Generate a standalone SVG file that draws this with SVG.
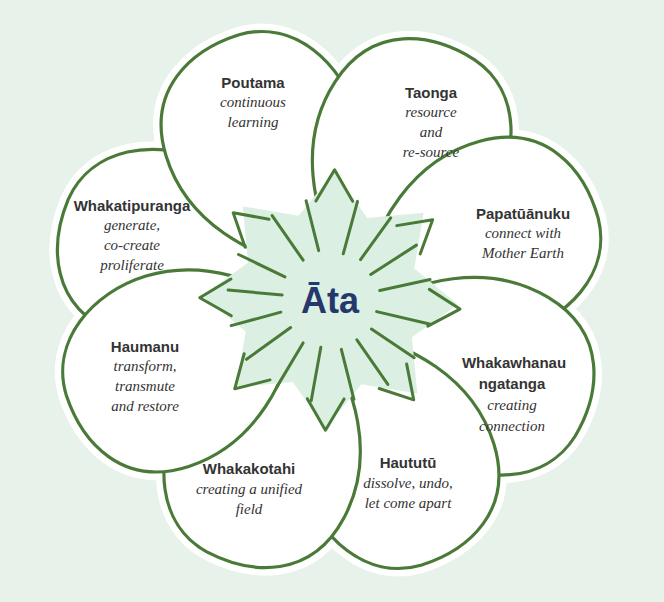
<svg xmlns="http://www.w3.org/2000/svg" width="664" height="602" viewBox="0 0 664 602">
<style>
.halo{fill:#fff;stroke:#fff;stroke-width:16}
.pet{fill:#fff;stroke:#4a7a38;stroke-width:3.2;stroke-linejoin:round}
.ln{fill:none;stroke:#4a7a38;stroke-width:3;stroke-linecap:round;stroke-linejoin:round}
.t{font-family:"Liberation Sans",Arial,sans-serif;font-weight:bold;font-size:15px;fill:#333;text-anchor:middle}
.s{font-family:"Liberation Serif","Times New Roman",serif;font-style:italic;font-size:15px;fill:#333;text-anchor:middle}
</style>
<defs>
<path id="p" d="M30,0 C70,-58 125,-104 195,-98 C264,-92 284,-35 280,15 C274,72 215,100 160,94 C100,87 55,45 30,0 Z"/>
<g id="inner">
<path class="ln" d="M47,-10 L100,-22"/>
<path class="ln" d="M50,8 L101,15"/>
<path class="ln" d="M97,24 L119,53 L83,58"/>
</g>
</defs>
<rect width="664" height="602" fill="#e6f2ea"/>
<g transform="translate(330,300)">
<g id="halo">
<use href="#p" class="halo" transform="rotate(-112)"/><use href="#p" class="halo" transform="rotate(-62)"/><use href="#p" class="halo" transform="rotate(-20)"/><use href="#p" class="halo" transform="rotate(26)"/><use href="#p" class="halo" transform="rotate(68)"/><use href="#p" class="halo" transform="rotate(113)"/><use href="#p" class="halo" transform="rotate(157)"/><use href="#p" class="halo" transform="rotate(198)"/>
</g>
<g id="petal-whakatipuranga"><use href="#p" class="pet" transform="rotate(198)"/></g>
<g id="petal-poutama"><use href="#p" class="pet" transform="rotate(-112)"/></g>
<g id="petal-taonga"><use href="#p" class="pet" transform="rotate(-62)"/></g>
<g id="petal-papatuanuku"><use href="#p" class="pet" transform="rotate(-20)"/></g>
<g id="petal-whakawhanaungatanga"><use href="#p" class="pet" transform="rotate(26)"/></g>
<g id="petal-haututu"><use href="#p" class="pet" transform="rotate(68)"/></g>
<g id="petal-whakakotahi"><use href="#p" class="pet" transform="rotate(113)"/></g>
<g id="petal-haumanu"><use href="#p" class="pet" transform="rotate(157)"/></g>
<g id="center">
<polygon fill="#dcefe3" points="4.5,-127.9 37.3,-81.9 93.6,-87.3 84.3,-31.5 127.9,4.5 81.9,37.3 87.3,93.6 31.5,84.3 -4.5,127.9 -37.3,81.9 -93.6,87.3 -84.3,31.5 -127.9,-4.5 -81.9,-37.3 -87.3,-93.6 -31.5,-84.3"/>
<g id="connectors">
<use href="#inner" transform="rotate(-112)"/><use href="#inner" transform="rotate(-62)"/><use href="#inner" transform="rotate(-20)"/><use href="#inner" transform="rotate(26)"/><use href="#inner" transform="rotate(68)"/><use href="#inner" transform="rotate(113)"/><use href="#inner" transform="rotate(157)"/><use href="#inner" transform="rotate(198)"/>
</g>
<text x="0" y="13" font-family="Liberation Sans,Arial,sans-serif" font-weight="bold" font-size="36" fill="#24386b" text-anchor="middle">Āta</text>
</g>
</g>
<g id="labels">
<text class="t" x="253" y="88">Poutama</text><text class="s" x="253" y="107">continuous</text><text class="s" x="253" y="127">learning</text>
<text class="t" x="431" y="98">Taonga</text><text class="s" x="431" y="117">resource</text><text class="s" x="431" y="137">and</text><text class="s" x="431" y="157">re-source</text>
<text class="t" x="523" y="219">Papatūānuku</text><text class="s" x="523" y="238">connect with</text><text class="s" x="523" y="258">Mother Earth</text>
<text class="t" x="132" y="211">Whakatipuranga</text><text class="s" x="132" y="230">generate,</text><text class="s" x="132" y="250">co-create</text><text class="s" x="132" y="270">proliferate</text>
<text class="t" x="145" y="352">Haumanu</text><text class="s" x="145" y="371">transform,</text><text class="s" x="145" y="391">transmute</text><text class="s" x="145" y="411">and restore</text>
<text class="t" x="514" y="368">Whakawhanau</text><text class="t" x="512" y="389">ngatanga</text><text class="s" x="512" y="410">creating</text><text class="s" x="512" y="431">connection</text>
<text class="t" x="249" y="474">Whakakotahi</text><text class="s" x="249" y="494">creating a unified</text><text class="s" x="249" y="514">field</text>
<text class="t" x="408" y="468">Haututū</text><text class="s" x="408" y="488">dissolve, undo,</text><text class="s" x="408" y="508">let come apart</text>
</g>
</svg>
